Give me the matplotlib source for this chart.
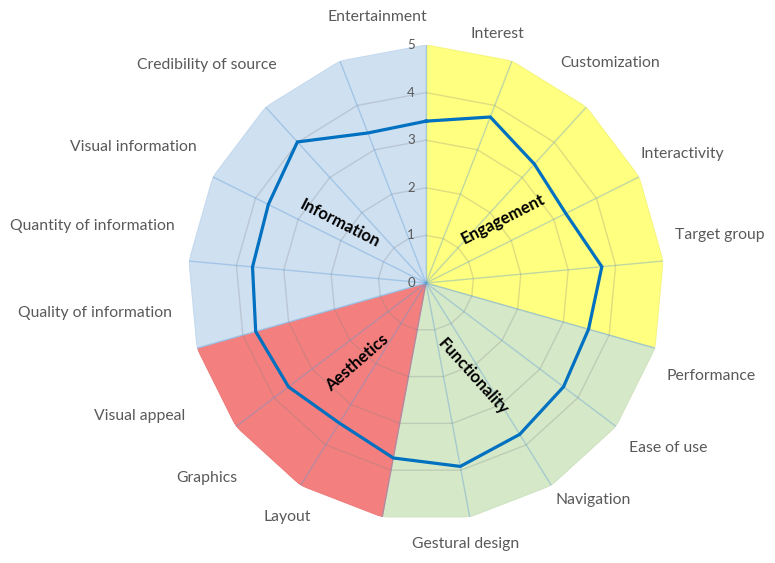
import numpy as np
import matplotlib
matplotlib.use("Agg")
import matplotlib.pyplot as plt
from matplotlib.transforms import offset_copy

# ---------------- data ----------------
categories = ["", "Interest", "Customization", "Interactivity", "Target group",
              "Performance", "Ease of use", "Navigation", "Gestural design",
              "Layout", "Graphics", "Visual appeal", "Quality of information",
              "Quantity of information", "Visual information",
              "Credibility of source", "Entertainment"]
scores = [3.40, 3.74, 3.38, 3.28, 3.71, 3.55, 3.62, 3.74, 3.92,
          3.74, 3.46, 3.62, 3.72, 3.66, 3.70, 4.01, 3.38]
groups = ["Engagement", "Functionality", "Aesthetics", "Information"]
group_first_axis = [0, 5, 9, 12]
group_last_axis = [5, 9, 12, 17]
scale_ticks = [0, 1, 2, 3, 4, 5]
max_value = 5

# ---------------- style / layout ----------------
W, H = 775, 563
group_colors = ["#FFFF80", "#D5E8C8", "#F47F7F", "#CFE0F1"]
group_edges = ["#F5F57C", "#CFE3C1", "#EE7B7B", "#C5DAEF"]
line_color = "#0070C0"
text_gray = "#595959"
font = ["Lato", "DejaVu Sans"]

center_px = (426, 283)   # from top-left
radius_px = 238

# label anchor positions in pixels (x, y from top)
label_px = {
    "Interest": (497, 34), "Customization": (610, 63), "Interactivity": (682, 154),
    "Target group": (720, 235), "Performance": (711, 376), "Ease of use": (668, 448),
    "Navigation": (593, 500), "Gestural design": (466, 544), "Layout": (287, 517),
    "Graphics": (207, 478), "Visual appeal": (140, 416),
    "Quality of information": (95, 313), "Quantity of information": (92, 226),
    "Visual information": (133, 147), "Credibility of source": (207, 65),
    "Entertainment": (377, 17),
}
group_label_px = {"Engagement": (503, 219, 27), "Functionality": (473, 377, -48),
                  "Aesthetics": (357, 363, 41), "Information": (340, 223, -27)}

# ---------------- figure ----------------
fig = plt.figure(figsize=(W / 100, H / 100), dpi=100)
rect = [(center_px[0] - radius_px) / W, (H - center_px[1] - radius_px) / H,
        2 * radius_px / W, 2 * radius_px / H]
ax = fig.add_axes(rect, projection="polar")
ax.set_theta_zero_location("N")
ax.set_theta_direction(-1)
ax.set_ylim(0, max_value)
ax.grid(False)
ax.set_xticks([])
ax.set_yticks([])
ax.spines["polar"].set_visible(False)
ax.patch.set_alpha(0)

n = len(categories)
theta = np.linspace(0, 2 * np.pi, n + 1)   # includes closing angle

# coloured group sectors
for g, name in enumerate(groups):
    a, b = group_first_axis[g], group_last_axis[g]
    th = np.concatenate([[0.0], theta[a:b + 1], [0.0]])
    rr = np.concatenate([[0.0], np.full(b - a + 1, max_value), [0.0]])
    ax.fill(th, rr, facecolor=group_colors[g], edgecolor=group_edges[g],
            linewidth=0.8, zorder=1)

# polygon rings
for lv in scale_ticks[1:-1]:
    ax.plot(theta, np.full(n + 1, lv), color="#7F7F7F", alpha=0.26,
            linewidth=1.0, zorder=2)
# radial spokes
for t in theta[:-1]:
    ax.plot([t, t], [0, max_value], color="#5B9BD5", alpha=0.38,
            linewidth=1.0, zorder=2)

# data line
vals = np.array(scores + scores[:1])
ax.plot(theta, vals, color=line_color, linewidth=2.3, zorder=4,
        solid_joinstyle="miter")

# scale tick labels along the top axis
tick_tr = offset_copy(ax.transData, fig=fig, x=-11, y=0, units="dots")
for v in scale_ticks:
    ax.text(0, v, str(v), transform=tick_tr, ha="right", va="center",
            fontsize=9.5, color=text_gray, family=font, zorder=5)

# category labels
for name in categories:
    if not name:
        continue
    x, y = label_px[name]
    fig.text(x / W, 1 - y / H, name, ha="center", va="center",
             fontsize=11.3, color=text_gray, family=font)

# group labels
for name in groups:
    x, y, rot = group_label_px[name]
    fig.text(x / W, 1 - y / H, name, ha="center", va="center",
             rotation=rot, rotation_mode="anchor", fontsize=12,
             fontweight="bold", color="black", family=font, zorder=6)

fig.savefig("out.png", dpi=100)
